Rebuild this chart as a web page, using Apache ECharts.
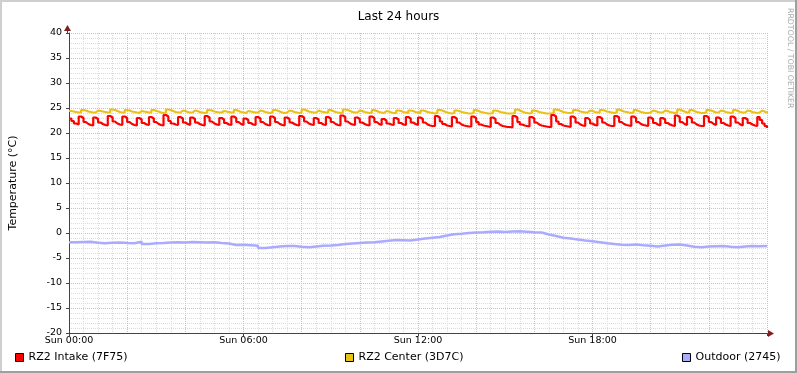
<!DOCTYPE html>
<html>
<head>
<meta charset="utf-8">
<script src="https://cdn.jsdelivr.net/npm/echarts@6/dist/echarts.min.js"></script>
<style>
html,body{margin:0;padding:0;background:#fff;}
#c{width:797px;height:373px;}
</style>
</head>
<body>
<div id="c"></div>
<script>
// ---- data ----
const titleText = 'Last 24 hours';
const yAxisName = 'Temperature (°C)';
const xTickLabels = ['Sun 00:00', 'Sun 06:00', 'Sun 12:00', 'Sun 18:00'];
const seriesNames = ['RZ2 Intake (7F75)', 'RZ2 Center (3D7C)', 'Outdoor (2745)'];
const stepFast = 5;   // minutes between samples for intake / center
const stepSlow = 15;  // minutes between samples for outdoor

const intake = [
22.9,22.4,21.9,21.7,23.3,23.0,22.2,21.8,21.6,21.5,
23.1,22.8,22.1,21.8,21.6,21.5,23.4,23.1,22.3,21.9,
21.7,21.6,23.3,23.0,22.2,21.8,21.6,21.5,23.0,22.7,
22.0,21.7,21.6,23.2,22.9,22.2,21.8,21.6,21.5,23.6,
23.3,22.4,21.9,21.7,21.6,23.2,22.9,22.1,21.8,21.6,
23.1,22.8,22.1,21.8,21.6,21.5,23.4,23.1,22.3,21.9,
21.7,21.6,23.0,22.7,22.0,21.7,21.6,23.3,23.0,22.2,
21.8,21.6,22.9,22.6,22.0,21.7,21.6,23.2,22.9,22.2,
21.8,21.6,21.5,23.3,23.0,22.2,21.8,21.6,21.5,23.1,
22.8,22.1,21.8,21.6,21.5,23.4,23.1,22.3,21.9,21.7,
21.6,23.0,22.7,22.0,21.7,21.6,23.2,22.9,22.2,21.8,
21.6,21.5,23.5,23.2,22.3,21.9,21.7,21.6,23.1,22.8,
22.1,21.8,21.6,21.5,23.3,23.0,22.2,21.8,21.6,22.8,
22.5,21.9,21.7,21.6,23.0,22.7,22.0,21.7,21.6,23.2,
22.9,22.1,21.8,21.6,23.1,22.8,22.1,21.7,21.5,21.4,
21.4,23.4,23.1,22.3,21.8,21.5,21.4,21.3,23.2,22.9,
22.1,21.7,21.5,21.4,21.3,21.3,23.3,23.0,22.2,21.7,
21.5,21.4,21.3,21.2,23.1,22.8,22.0,21.6,21.4,21.3,
21.2,21.2,21.1,23.4,23.1,22.2,21.7,21.5,21.4,21.3,
23.2,22.9,22.1,21.7,21.5,21.4,21.3,21.2,21.2,23.6,
23.3,22.3,21.8,21.5,21.4,21.3,21.2,23.3,23.0,22.1,
21.7,21.5,21.4,23.0,22.6,21.9,21.6,21.5,23.2,22.9,
22.1,21.7,21.5,21.4,21.4,23.4,23.1,22.2,21.8,21.6,
21.5,21.4,23.3,23.0,22.2,21.8,21.6,21.5,21.4,23.1,
22.8,22.0,21.7,21.5,23.0,22.7,22.0,21.7,21.5,21.4,
23.5,23.2,22.2,21.8,21.6,23.2,22.9,22.1,21.7,21.5,
21.4,21.4,23.4,23.1,22.2,21.8,21.6,23.1,22.8,22.0,
21.7,21.5,21.4,23.3,23.0,22.1,21.7,21.5,23.0,22.7,
22.0,21.7,21.5,21.4,23.2,22.6,21.9,21.4,21.0
];

const center = [
24.4,24.3,24.2,24.1,24.1,24.6,24.5,24.3,24.2,24.1,
24.1,24.5,24.4,24.3,24.2,24.1,24.1,24.7,24.6,24.4,
24.2,24.1,24.1,24.6,24.5,24.3,24.2,24.1,24.0,24.4,
24.3,24.2,24.1,24.1,24.6,24.4,24.3,24.1,24.0,24.1,
24.7,24.6,24.4,24.2,24.1,24.1,24.5,24.4,24.2,24.1,
24.1,24.5,24.4,24.2,24.1,24.0,24.1,24.6,24.5,24.3,
24.2,24.1,24.1,24.4,24.3,24.2,24.1,24.1,24.6,24.4,
24.2,24.1,24.0,24.4,24.3,24.2,24.1,24.1,24.5,24.4,
24.2,24.1,24.0,24.1,24.6,24.5,24.3,24.1,24.0,24.1,
24.5,24.4,24.2,24.1,24.0,24.1,24.7,24.5,24.3,24.2,
24.1,24.1,24.5,24.3,24.2,24.1,24.1,24.6,24.4,24.2,
24.1,24.0,24.1,24.7,24.6,24.4,24.2,24.1,24.1,24.5,
24.4,24.2,24.1,24.0,24.1,24.6,24.4,24.2,24.1,24.0,
24.4,24.3,24.1,24.0,24.0,24.5,24.4,24.2,24.1,24.0,
24.5,24.4,24.2,24.1,24.0,24.5,24.4,24.2,24.1,24.0,
23.9,24.0,24.6,24.5,24.3,24.1,24.0,23.9,24.0,24.5,
24.4,24.2,24.1,24.0,23.9,23.9,24.0,24.6,24.4,24.2,
24.1,24.0,23.9,23.9,24.0,24.5,24.4,24.2,24.1,24.0,
23.9,23.9,23.9,24.0,24.7,24.5,24.3,24.1,24.0,23.9,
24.0,24.5,24.4,24.2,24.1,24.0,23.9,23.9,23.9,24.0,
24.7,24.6,24.4,24.2,24.1,24.0,24.0,24.1,24.6,24.5,
24.3,24.2,24.1,24.1,24.5,24.4,24.2,24.1,24.1,24.6,
24.5,24.3,24.2,24.1,24.0,24.1,24.7,24.5,24.3,24.2,
24.1,24.0,24.1,24.6,24.4,24.2,24.1,24.0,24.0,24.1,
24.5,24.4,24.2,24.1,24.1,24.5,24.4,24.2,24.1,24.0,
24.1,24.7,24.5,24.3,24.1,24.1,24.6,24.4,24.2,24.1,
24.0,24.0,24.1,24.6,24.5,24.3,24.1,24.1,24.5,24.4,
24.2,24.1,24.0,24.1,24.6,24.4,24.2,24.1,24.1,24.5,
24.4,24.2,24.1,24.0,24.1,24.5,24.3,24.1,23.9
];

const outdoor = [
-1.85,-1.8,-1.75,-1.95,-2.05,-1.95,-1.9,-2.0,-2.05,-1.75,
-2.2,-2.05,-2.0,-1.9,-1.85,-1.9,-1.8,-1.85,-1.9,-1.85,
-2.0,-2.1,-2.4,-2.35,-2.45,-2.55,-3.0,-2.85,-2.7,-2.6,
-2.6,-2.75,-2.85,-2.7,-2.55,-2.5,-2.4,-2.2,-2.1,-2.0,
-1.9,-1.85,-1.7,-1.55,-1.4,-1.45,-1.5,-1.3,-1.1,-0.95,
-0.8,-0.5,-0.25,-0.15,0.0,0.1,0.15,0.25,0.3,0.2,
0.3,0.35,0.25,0.15,0.1,-0.3,-0.6,-0.95,-1.1,-1.3,
-1.5,-1.65,-1.85,-2.05,-2.2,-2.35,-2.4,-2.3,-2.45,-2.55,
-2.7,-2.5,-2.35,-2.3,-2.5,-2.75,-2.85,-2.7,-2.65,-2.6,
-2.75,-2.85,-2.7,-2.6,-2.65,-2.6,-2.55
];

// ---- styles ----
const FONT = 'DejaVu Sans';
const colors = ['#FF0000', '#EAC117', '#AAAAFF'];
const gridMinor = '#DCDCDC';
const gridMajor = '#EDB3B3';
const axisColor = '#4d3f3f';
const arrowColor = '#7F1F1F';

function pairs(arr, step) { return arr.map((v, i) => [i * step, v]); }

const chart = echarts.init(document.getElementById('c'), null, {renderer: 'canvas'});

const legendBase = {
  top: 352, icon: 'rect', itemWidth: 8, itemHeight: 8, padding: 0,
  itemStyle: {borderColor: '#000', borderWidth: 1},
  textStyle: {fontFamily: FONT, fontSize: 11, color: '#000'},
  selectedMode: false
};

chart.setOption({
  animation: false,
  backgroundColor: '#FFFFFF',
  title: {
    text: titleText, left: 'center', top: 6,
    textStyle: {fontFamily: FONT, fontSize: 12, fontWeight: 'normal', color: '#000'}
  },
  legend: [
    Object.assign({}, legendBase, {left: 15, data: [seriesNames[0]]}),
    Object.assign({}, legendBase, {left: 345, data: [seriesNames[1]]}),
    Object.assign({}, legendBase, {left: 682, data: [seriesNames[2]]})
  ],
  grid: {left: 67, right: 30, top: 33, bottom: 40, containLabel: false},
  xAxis: [
    {
      type: 'value', min: 0, max: 1440, interval: 360,
      axisLine: {show: true, onZero: false, lineStyle: {color: axisColor, width: 1}},
      axisTick: {show: true, length: 3, lineStyle: {color: axisColor}},
      axisLabel: {
        margin: 3, fontFamily: FONT, fontSize: 9.5, color: '#000',
        formatter: v => (v / 360 < xTickLabels.length ? xTickLabels[v / 360] : '')
      },
      splitLine: {show: false}
    },
    {
      type: 'value', min: 0, max: 1440, interval: 120, position: 'bottom',
      axisLine: {show: false, onZero: false}, axisTick: {show: false}, axisLabel: {show: false},
      minorTick: {show: false, splitNumber: 4},
      splitLine: {show: true, lineStyle: {color: gridMajor, type: 'dotted', width: 1}},
      minorSplitLine: {show: true, lineStyle: {color: gridMinor, type: 'dotted', width: 1}}
    }
  ],
  yAxis: {
    type: 'value', min: -20, max: 40, interval: 5,
    name: yAxisName, nameLocation: 'middle', nameGap: 50,
    nameTextStyle: {fontFamily: FONT, fontSize: 11, color: '#000'},
    axisLine: {show: true, onZero: false, lineStyle: {color: axisColor, width: 1}},
    axisTick: {show: true, length: 3, lineStyle: {color: axisColor}},
    axisLabel: {margin: 7, fontFamily: FONT, fontSize: 9.5, color: '#000'},
    minorTick: {show: false, splitNumber: 5},
    splitLine: {show: true, lineStyle: {color: gridMajor, type: 'dotted', width: 1}},
    minorSplitLine: {show: true, lineStyle: {color: gridMinor, type: 'dotted', width: 1}}
  },
  series: [
    {name: seriesNames[0], type: 'line', xAxisIndex: 0, data: pairs(intake, stepFast), step: 'end',
     showSymbol: false, color: colors[0], lineStyle: {width: 2.2, color: colors[0]}, z: 5},
    {name: seriesNames[1], type: 'line', xAxisIndex: 0, data: pairs(center, stepFast), step: 'end',
     showSymbol: false, color: colors[1], lineStyle: {width: 2.2, color: colors[1]}, z: 4},
    {name: seriesNames[2], type: 'line', xAxisIndex: 0, data: pairs(outdoor, stepSlow), step: 'end',
     showSymbol: false, color: colors[2], lineStyle: {width: 2.5, color: colors[2]}, z: 3}
  ],
  graphic: [
    // frame shading
    {type: 'rect', shape: {x: 0, y: 0, width: 797, height: 2}, style: {fill: '#CFCFCF'}, silent: true},
    {type: 'rect', shape: {x: 0, y: 0, width: 2, height: 373}, style: {fill: '#CFCFCF'}, silent: true},
    {type: 'rect', shape: {x: 0, y: 371, width: 797, height: 2}, style: {fill: '#9E9E9E'}, silent: true},
    {type: 'rect', shape: {x: 795, y: 0, width: 2, height: 373}, style: {fill: '#9E9E9E'}, silent: true},
    // axis arrows
    {type: 'line', shape: {x1: 67.5, y1: 33, x2: 67.5, y2: 29}, style: {stroke: axisColor, lineWidth: 1}, silent: true},
    {type: 'polygon', shape: {points: [[64, 31], [71, 31], [67.5, 25]]}, style: {fill: arrowColor}, silent: true},
    {type: 'line', shape: {x1: 767, y1: 333.5, x2: 770, y2: 333.5}, style: {stroke: axisColor, lineWidth: 1}, silent: true},
    {type: 'polygon', shape: {points: [[768, 330], [768, 337], [774, 333.5]]}, style: {fill: arrowColor}, silent: true},
    // watermark
    {type: 'text', x: 786, y: 8, rotation: -Math.PI / 2,
     style: {text: 'RRDTOOL / TOBI OETIKER', fontFamily: FONT, fontSize: 7.8, fill: '#A8A8A8',
             textAlign: 'left', textVerticalAlign: 'bottom'}, silent: true}
  ]
});
</script>
</body>
</html>
